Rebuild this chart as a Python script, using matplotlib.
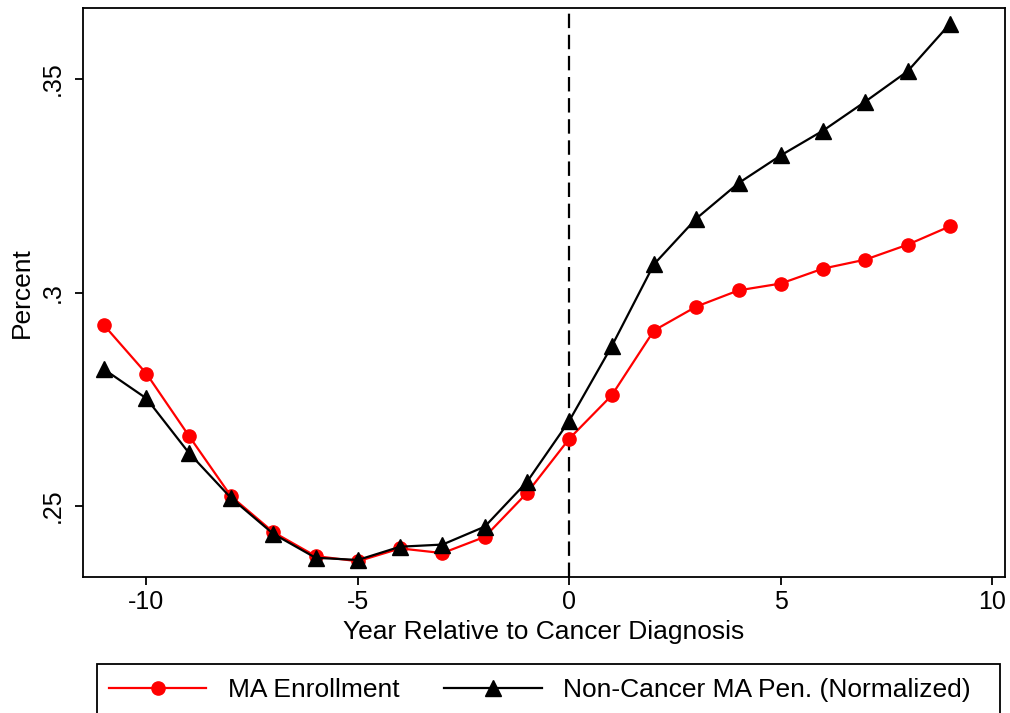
import numpy as np
import matplotlib
matplotlib.use("Agg")
import matplotlib.pyplot as plt
from matplotlib.lines import Line2D
from matplotlib.patches import Rectangle

plt.rcParams["font.family"] = ["Liberation Sans", "DejaVu Sans"]
plt.rcParams["axes.unicode_minus"] = False

years = list(range(-11, 10))
ma_enrollment = [0.2923, 0.2810, 0.2665, 0.2523, 0.2439, 0.2383, 0.2371,
                 0.2401, 0.2390, 0.2428, 0.2531, 0.2658, 0.2759, 0.2911,
                 0.2967, 0.3005, 0.3021, 0.3056, 0.3077, 0.3112, 0.3155]
non_cancer_pen = [0.2820, 0.2752, 0.2625, 0.2519, 0.2435, 0.2379, 0.2374,
                  0.2405, 0.2410, 0.2452, 0.2557, 0.2700, 0.2874, 0.3066,
                  0.3173, 0.3256, 0.3321, 0.3379, 0.3447, 0.3518, 0.3629]
x_ticks = [-10, -5, 0, 5, 10]
y_ticks = [0.25, 0.30, 0.35]
y_tick_labels = [".25", ".3", ".35"]
legend_labels = ["MA Enrollment", "Non-Cancer MA Pen. (Normalized)"]

fig = plt.figure(figsize=(10.1, 7.13), dpi=100)
ax = fig.add_axes([0.0822, 0.1907, 0.9128, 0.7981])

ax.axvline(0, color="black", lw=1.6, ls=(0, (6.5, 3)), zorder=1)
ax.plot(years, ma_enrollment, color="#ff0000", lw=1.6, marker="o",
        markersize=9.5, zorder=3)
ax.plot(years, non_cancer_pen, color="black", lw=1.6, marker="^",
        markersize=11.5, zorder=3)

ax.set_xlim(-11.5, 10.3)
ax.set_ylim(0.2334, 0.3666)
ax.set_xticks(x_ticks)
ax.set_yticks(y_ticks)
ax.set_yticklabels(y_tick_labels, rotation=90, va="center")
ax.tick_params(direction="out", length=6, width=1.3, labelsize=18,
               top=False, right=False)
ax.tick_params(axis="x", pad=3)
ax.tick_params(axis="y", pad=7)
for s in ax.spines.values():
    s.set_linewidth(1.3)

ax.set_xlabel("Year Relative to Cancer Diagnosis", fontsize=19, labelpad=5)
ax.set_ylabel("Percent", fontsize=19, labelpad=5)

# legend box sits at the bottom and runs past the lower edge
fig.patches.append(Rectangle((97 / 1010, -0.05), 903 / 1010, 0.05 + 49 / 713,
                             transform=fig.transFigure, fill=False,
                             edgecolor="black", lw=1.3))
handles = [
    Line2D([], [], color="#ff0000", lw=1.6, marker="o", markersize=9.5),
    Line2D([], [], color="black", lw=1.6, marker="^", markersize=11.5),
]
fig.legend(handles, legend_labels, loc="center left", ncol=2,
           bbox_to_anchor=(85 / 1010, 1 - 690 / 713), frameon=False,
           fontsize=19, handlelength=3.7, columnspacing=1.7, handletextpad=0.8)

fig.savefig("out.png", dpi=100)
